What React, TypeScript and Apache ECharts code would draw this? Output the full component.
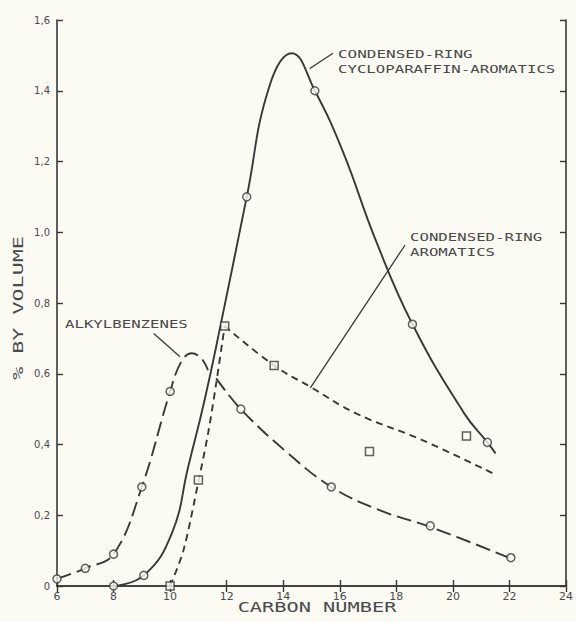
import React, { useEffect, useRef } from "react";
import * as echarts from "echarts";

// ---- data (carbon number, % by volume) ----
const ALKYL_MARK_X = [6, 7, 8, 9, 10, 12.5, 15.7, 19.2, 22.05];
const ALKYL_MARK_Y = [0.02, 0.05, 0.09, 0.28, 0.55, 0.5, 0.28, 0.17, 0.08];
const ALKYL_CURVE_A_X = [6, 7, 8, 9, 10, 10.4, 10.76, 11.1, 11.34];
const ALKYL_CURVE_A_Y = [0.02, 0.05, 0.09, 0.28, 0.55, 0.635, 0.658, 0.644, 0.61];
const ALKYL_CURVE_B_X = [11.63, 12.5, 14.1, 15.7, 17.38, 19.2, 22.05];
const ALKYL_CURVE_B_Y = [0.587, 0.5, 0.38, 0.28, 0.215, 0.167, 0.078];

const CYCLO_MARK_X = [8, 9.07, 12.71, 15.12, 18.57, 21.22];
const CYCLO_MARK_Y = [0, 0.03, 1.1, 1.4, 0.74, 0.406];
const CYCLO_CURVE_X = [8, 9.07, 10.06, 10.64, 11.22, 11.8, 12.71, 13.5, 14.3, 15.12, 16.1, 17.27, 18.57, 20.4, 21.22, 21.51];
const CYCLO_CURVE_Y = [0, 0.03, 0.149, 0.337, 0.526, 0.743, 1.1, 1.41, 1.506, 1.4, 1.23, 0.978, 0.74, 0.488, 0.406, 0.375];

const AROM_MARK_X = [10, 11, 11.93, 13.68, 17.05, 20.48];
const AROM_MARK_Y = [0, 0.3, 0.735, 0.623, 0.38, 0.424];
const AROM_RISE_X = [10, 10.47, 11, 11.34, 11.63, 11.93];
const AROM_RISE_Y = [0, 0.1, 0.295, 0.43, 0.573, 0.735];
const AROM_FALL_X = [11.93, 13.68, 14.96, 16.57, 18.9, 21.4];
const AROM_FALL_Y = [0.735, 0.623, 0.563, 0.488, 0.413, 0.319];

// leader lines of the annotations (data coordinates)
const LEADER_CYCLO_X = [15.76, 14.94];
const LEADER_CYCLO_Y = [1.506, 1.463];
const LEADER_AROM_X = [18.31, 14.96];
const LEADER_AROM_Y = [0.964, 0.56];
const LEADER_ALKYL_X = [9.42, 10.35];
const LEADER_ALKYL_Y = [0.714, 0.648];

const X_TICKS = ["6", "8", "10", "12", "14", "16", "18", "20", "22", "24"];
const Y_TICKS = ["0", "0,2", "0,4", "0,6", "0,8", "1,0", "1,2", "1,4", "1,6"];

const LINE = "#383838";
const TEXT = "#4a4a4a";
const BG = "#fbfbf4";
const FONT = "'DejaVu Sans Mono', monospace";

const pairs = (xs: number[], ys: number[]) => xs.map((x, i) => [x, ys[i]]);

export default function App() {
  const ref = useRef<HTMLDivElement>(null);
  useEffect(() => {
    if (!ref.current) return;
    const chart = echarts.init(ref.current, null, { renderer: "svg" });

    const curve = (name: string, xs: number[], ys: number[], type: any, smooth: number) => ({
      name,
      type: "line",
      data: pairs(xs, ys),
      smooth,
      showSymbol: false,
      symbol: "none",
      silent: true,
      clip: false,
      lineStyle: { color: LINE, width: 1.9, type },
      z: 2,
    });
    const leader = (xs: number[], ys: number[]) => ({
      type: "line",
      data: pairs(xs, ys),
      symbol: "none",
      silent: true,
      lineStyle: { color: LINE, width: 1.3 },
      z: 2,
    });
    const marks = (name: string, xs: number[], ys: number[], symbol: string) => ({
      name,
      type: "scatter",
      data: pairs(xs, ys),
      symbol,
      symbolSize: 8,
      clip: false,
      itemStyle: { color: BG, borderColor: LINE, borderWidth: 1.5 },
      z: 5,
    });

    const axisCommon = {
      axisLine: { show: true, lineStyle: { color: LINE, width: 1.6 } },
      axisTick: { show: true, inside: true, length: 6, lineStyle: { color: LINE, width: 1.4 } },
      splitLine: { show: false },
    };

    const txt = (text: string, x: number, y: number, size: number, sx: number, align = "left", rotation = 0) => ({
      type: "text",
      x,
      y,
      rotation,
      scaleX: sx,
      silent: true,
      style: {
        text,
        fill: TEXT,
        fontFamily: FONT,
        fontSize: size,
        textAlign: align,
        textVerticalAlign: "middle",
        align,
        verticalAlign: "middle",
      },
    });

    chart.setOption({
      animation: false,
      backgroundColor: BG,
      grid: { left: 57, right: 5, top: 20, bottom: 36 },
      xAxis: [
        {
          type: "value",
          min: 6,
          max: 24,
          interval: 2,
          position: "bottom",
          ...axisCommon,
          axisLabel: {
            color: TEXT,
            fontSize: 11,
            fontFamily: "'DejaVu Sans', sans-serif",
            margin: 5,
            formatter: (v: number) => X_TICKS[Math.round((v - 6) / 2)] ?? "",
          },
        },
        {
          type: "value",
          min: 6,
          max: 24,
          interval: 2,
          position: "top",
          ...axisCommon,
          axisLabel: { show: false },
        },
      ],
      yAxis: [
        {
          type: "value",
          min: 0,
          max: 1.6,
          interval: 0.2,
          position: "left",
          ...axisCommon,
          axisLabel: {
            color: TEXT,
            fontSize: 10,
            fontFamily: "'DejaVu Sans', sans-serif",
            margin: 7,
            formatter: (v: number) => Y_TICKS[Math.round(v / 0.2)] ?? "",
          },
        },
        {
          type: "value",
          min: 0,
          max: 1.6,
          interval: 0.2,
          position: "right",
          ...axisCommon,
          axisLabel: { show: false },
        },
      ],
      series: [
        curve("Alkylbenzenes", ALKYL_CURVE_A_X, ALKYL_CURVE_A_Y, [15, 6], 0.4),
        curve("Alkylbenzenes ", ALKYL_CURVE_B_X, ALKYL_CURVE_B_Y, [15, 6], 0.4),
        curve("Condensed-ring cycloparaffin-aromatics", CYCLO_CURVE_X, CYCLO_CURVE_Y, "solid", 0.45),
        curve("Condensed-ring aromatics", AROM_RISE_X, AROM_RISE_Y, [7, 5], 0.3),
        curve("Condensed-ring aromatics ", AROM_FALL_X, AROM_FALL_Y, [7, 5], 0.4),
        leader(LEADER_CYCLO_X, LEADER_CYCLO_Y),
        leader(LEADER_AROM_X, LEADER_AROM_Y),
        leader(LEADER_ALKYL_X, LEADER_ALKYL_Y),
        marks("Alkylbenzenes pts", ALKYL_MARK_X, ALKYL_MARK_Y, "circle"),
        marks("Cyclo pts", CYCLO_MARK_X, CYCLO_MARK_Y, "circle"),
        marks("Aromatics pts", AROM_MARK_X, AROM_MARK_Y, "rect"),
      ],
      graphic: [
        txt("CONDENSED-RING", 338, 55, 10, 1.6),
        txt("CYCLOPARAFFIN-AROMATICS", 338, 70, 10, 1.57),
        txt("CONDENSED-RING", 410, 238, 10, 1.57),
        txt("AROMATICS", 410, 253, 10, 1.57),
        txt("ALKYLBENZENES", 65, 325, 10, 1.57),
        txt("CARBON NUMBER", 317, 607, 14, 1.45, "center"),
        txt("% BY VOLUME", 18, 308, 14, 1.55, "center", Math.PI / 2),
      ],
    });
    return () => chart.dispose();
  }, []);

  return (
    <div
      ref={ref}
      style={{ position: "fixed", left: 0, top: 0, width: 576, height: 622, background: BG }}
    />
  );
}
